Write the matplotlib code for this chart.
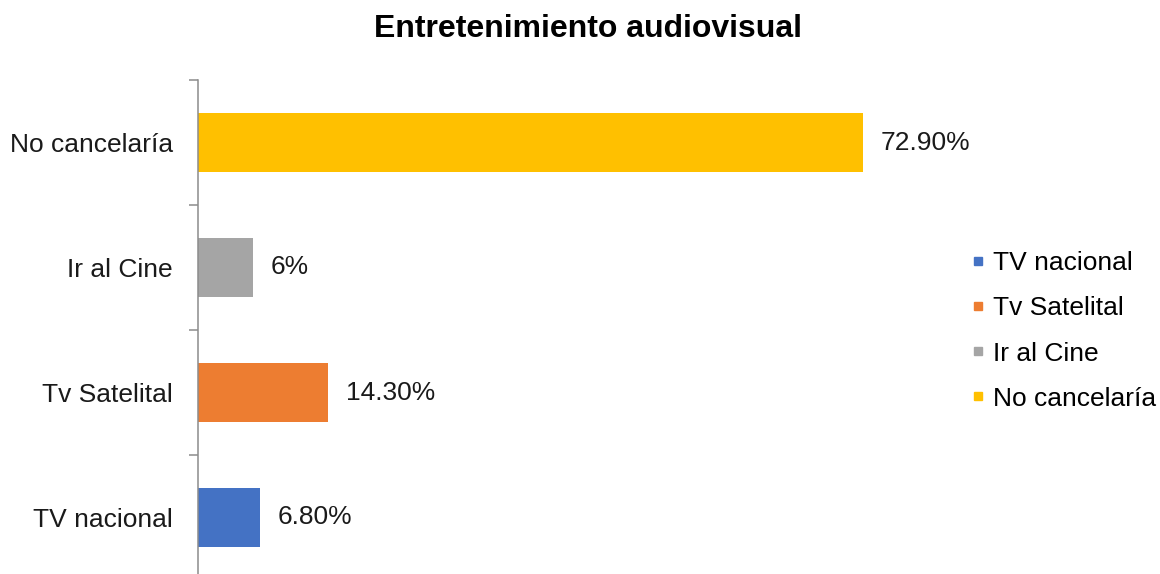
import matplotlib
matplotlib.use("Agg")
import matplotlib.pyplot as plt
from matplotlib.lines import Line2D

plt.rcParams['font.family'] = ['Liberation Sans', 'DejaVu Sans']

categories = ["TV nacional", "Tv Satelital", "Ir al Cine", "No cancelaría"]
values = [6.8, 14.3, 6.0, 72.9]
value_labels = ["6.80%", "14.30%", "6%", "72.90%"]
colors = ["#4472C4", "#ED7D31", "#A5A5A5", "#FFC000"]
title = "Entretenimiento audiovisual"

W, H = 1160, 574
fig = plt.figure(figsize=(W / 100, H / 100), dpi=100)
x_max = 80
ax_left, ax_top, ax_bottom = 198, 80, 580
ax_w = x_max * 9.118
ax = fig.add_axes([ax_left / W, 1 - ax_bottom / H, ax_w / W, (ax_bottom - ax_top) / H])

ypos = list(range(len(categories)))
ax.barh(ypos, values, height=0.47, color=colors)
ax.set_xlim(0, x_max)
ax.set_ylim(-0.5, len(categories) - 0.5)

for y, v, lab in zip(ypos, values, value_labels):
    ax.annotate(lab, xy=(v, y), xytext=(13, 0), textcoords="offset points",
                ha="left", va="center", fontsize=19, color="#1a1a1a")

# Category boundaries carry the tick marks; names sit at the centres
ax.set_yticks([i - 0.5 for i in range(len(categories) + 1)])
ax.set_yticklabels([])
ax.set_yticks(ypos, minor=True)
ax.set_yticklabels(categories, minor=True, fontsize=19, color="#1a1a1a")
ax.tick_params(axis="y", which="major", length=6.5, width=1.1, color="#8c8c8c", direction="out")
ax.tick_params(axis="y", which="minor", length=0, pad=18)
ax.set_xticks([])

for s in ["top", "right", "bottom"]:
    ax.spines[s].set_visible(False)
ax.spines["left"].set_color("#8c8c8c")
ax.spines["left"].set_linewidth(1.1)

fig.text(588 / W, 1 - 29 / H, title, ha="center", va="center",
         fontsize=23, fontweight="bold", color="#000000")

handles = [Line2D([], [], linestyle="none", marker="s", markersize=6,
                  markerfacecolor=c, markeredgecolor=c) for c in colors]
fig.legend(handles, categories, loc="center left",
           bbox_to_anchor=(957 / W, 1 - 331 / H), frameon=False,
           fontsize=19, handlelength=0.6, handletextpad=0.27,
           labelspacing=0.8, borderpad=0)

fig.savefig("out.png", dpi=100)
